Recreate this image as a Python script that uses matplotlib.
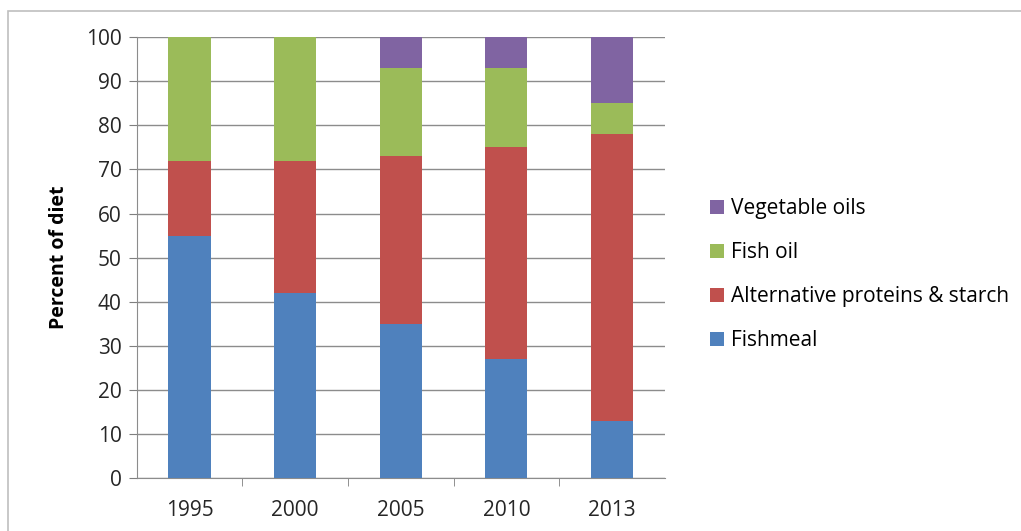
import matplotlib.pyplot as plt
import numpy as np
from matplotlib.patches import Rectangle

plt.rcParams['font.family'] = ['Open Sans', 'DejaVu Sans']

years = ['1995', '2000', '2005', '2010', '2013']
fishmeal = [55, 42, 35, 27, 13]
alt_proteins = [17, 30, 38, 48, 65]
fish_oil = [28, 28, 20, 18, 7]
veg_oils = [0, 0, 7, 7, 15]

series = [
    ('Fishmeal', fishmeal, '#4f81bd'),
    ('Alternative proteins & starch', alt_proteins, '#c0504d'),
    ('Fish oil', fish_oil, '#9bbb59'),
    ('Vegetable oils', veg_oils, '#8064a2'),
]

fig = plt.figure(figsize=(10.21, 5.31), dpi=100)
ax = fig.add_axes([0.134, 0.0998, 0.517, 0.830])

# marco gris alrededor del grafico
fig.patches.append(Rectangle((0.008, -0.01), 1.2, 0.99, transform=fig.transFigure,
                             fill=False, edgecolor='#bfbfbf', linewidth=1.2))

x = np.arange(len(years))
bottom = np.zeros(len(years))
for name, vals, color in series:
    ax.bar(x, vals, width=0.4, bottom=bottom, color=color, label=name, zorder=3)
    bottom += np.array(vals)

ax.set_ylim(0, 100)
ax.set_xlim(-0.5, len(years) - 0.5)
ax.set_yticks(range(0, 101, 10))
ax.set_xticks(x)
ax.set_xticklabels(years)
ax.set_xticks(np.arange(0.5, len(years) - 1, 1), minor=True)
ax.tick_params(axis='x', which='major', length=0, labelsize=15, pad=16)
ax.tick_params(axis='x', which='minor', length=6, color='#7f7f7f', direction='out')
ax.tick_params(axis='y', length=6, color='#7f7f7f', labelsize=15, pad=5)
for lbl in ax.get_yticklabels() + ax.get_xticklabels():
    lbl.set_color('#262626')

ax.grid(True, axis='y', color='#8c8c8c', linewidth=1, zorder=0)
for side in ['top', 'right']:
    ax.spines[side].set_visible(False)
ax.spines['left'].set_color('#8c8c8c')
ax.spines['bottom'].set_color('#8c8c8c')

ax.set_ylabel('Percent of diet', fontsize=14, fontweight='bold', labelpad=12)

handles, labels = ax.get_legend_handles_labels()
fig.legend(handles[::-1], labels[::-1], loc='center left', bbox_to_anchor=(0.677, 0.483),
           frameon=False, fontsize=15, handlelength=0.65, handleheight=0.65,
           handletextpad=0.35, labelspacing=1.1)

fig.savefig('out.png', dpi=100)
